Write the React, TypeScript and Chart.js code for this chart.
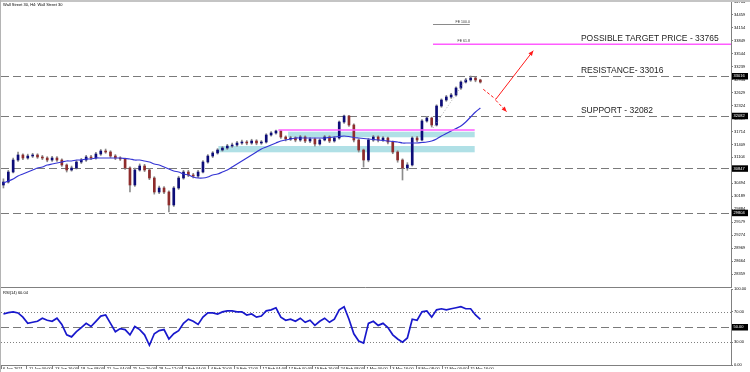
import { useEffect, useRef } from "react";
import { Chart, registerables } from "chart.js";

Chart.register(...registerables);

const FONT = '"Liberation Sans", Arial, Helvetica, sans-serif';

const chartTitle = "Wall Street 30, H4: Wall Street 30";
const rsiTitle = "RSI(14) 60.04";

// time axis in H4 bars; one label every 16 bars, one drawn candle = 3 bars
const xLabels = [
  "6 Jan 2021", "11 Jan 00:00", "13 Jan 16:00", "18 Jan 08:00", "21 Jan 04:00",
  "25 Jan 20:00", "28 Jan 12:00", "2 Feb 04:00", "4 Feb 20:00", "9 Feb 12:00",
  "12 Feb 04:00", "17 Feb 00:00", "19 Feb 16:00", "24 Feb 08:00", "1 Mar 00:00",
  "3 Mar 16:00", "8 Mar 08:00", "11 Mar 00:00", "15 Mar 16:00",
];
const BARS_PER_LABEL = 16;
const BARS_PER_CANDLE = 3;
const X_MAX = 450;

const opens = [
  30455, 30525, 30760, 31042, 31160, 31089, 31136, 31160, 31113, 31089,
  31042, 31089, 31042, 30925, 30807, 30854, 30995, 31042, 31113, 31089,
  31183, 31254, 31230, 31136, 31089, 31066, 30854, 30455, 30807, 30901,
  30807, 30619, 30290, 30384, 30290, 29985, 30384, 30619, 30760, 30690,
  30666, 30760, 30995, 31136, 31207, 31277, 31324, 31371, 31395, 31442,
  31465, 31442, 31489, 31442, 31465, 31630, 31677, 31724, 31583, 31536,
  31559, 31512, 31583, 31489, 31536, 31418, 31512, 31583, 31489, 31559,
  31935, 32076, 31865, 31512, 31277, 31042, 31512, 31583, 31512, 31559,
  31465, 31230, 31042, 30854, 30925, 31559, 31512, 31959, 32029, 31865,
  32311, 32452, 32523, 32570, 32734, 32875, 32922, 32969, 32922,
];
const closes = [
  30525, 30760, 31042, 31160, 31089, 31136, 31160, 31113, 31089, 31042,
  31089, 31042, 30925, 30807, 30854, 30995, 31042, 31113, 31089, 31183,
  31254, 31230, 31136, 31089, 31066, 30854, 30455, 30807, 30901, 30807,
  30619, 30290, 30384, 30290, 29985, 30384, 30619, 30760, 30690, 30666,
  30760, 30995, 31136, 31207, 31277, 31324, 31371, 31395, 31442, 31465,
  31442, 31489, 31442, 31465, 31630, 31677, 31724, 31583, 31536, 31559,
  31512, 31583, 31489, 31536, 31418, 31512, 31583, 31489, 31559, 31935,
  32076, 31865, 31512, 31277, 31042, 31512, 31583, 31512, 31559, 31465,
  31230, 31042, 30854, 30925, 31559, 31512, 31959, 32029, 31865, 32311,
  32452, 32523, 32570, 32734, 32875, 32922, 32969, 32922, 32875,
];
const highs = [
  30600, 30800, 31090, 31230, 31190, 31180, 31200, 31190, 31150, 31120,
  31130, 31120, 31070, 30950, 30900, 31030, 31080, 31150, 31150, 31220,
  31290, 31300, 31260, 31170, 31120, 31090, 30880, 30850, 30950, 30940,
  30840, 30650, 30430, 30420, 30320, 30420, 30660, 30800, 30800, 30730,
  30800, 31030, 31170, 31240, 31310, 31360, 31410, 31440, 31480, 31510,
  31500, 31530, 31520, 31500, 31660, 31710, 31747, 31740, 31610, 31600,
  31590, 31620, 31610, 31570, 31560, 31540, 31620, 31610, 31590, 31960,
  32100, 32090, 31890, 31540, 31300, 31550, 31620, 31610, 31590, 31580,
  31490, 31260, 31070, 30980, 31590, 31600, 31990, 32070, 32050, 32340,
  32480, 32560, 32610, 32760, 32900, 32960, 33016, 32990, 32940,
];
const lows = [
  30384, 30500, 30740, 31010, 31050, 31060, 31100, 31080, 31050, 31000,
  31010, 31010, 30890, 30760, 30780, 30830, 30960, 31010, 31050, 31060,
  31150, 31200, 31100, 31050, 31030, 30820, 30290, 30420, 30780, 30770,
  30580, 30240, 30250, 30250, 29820, 29950, 30350, 30590, 30650, 30620,
  30630, 30740, 30970, 31100, 31180, 31250, 31290, 31340, 31360, 31410,
  31400, 31410, 31400, 31410, 31440, 31600, 31650, 31550, 31490, 31500,
  31470, 31480, 31450, 31450, 31370, 31390, 31490, 31450, 31460, 31530,
  31900, 31830, 31470, 31230, 30878, 31000, 31480, 31470, 31480, 31420,
  31190, 30990, 30572, 30800, 30900, 31470, 31490, 31930, 31817, 31840,
  32280, 32420, 32490, 32540, 32700, 32850, 32890, 32880, 32850,
];
const ma50 = [
  30502, 30548, 30596, 30666, 30713, 30760, 30807, 30854, 30878, 30925,
  30948, 30972, 30995, 31019, 31019, 31042, 31042, 31066, 31066, 31089,
  31089, 31089, 31089, 31089, 31089, 31077, 31066, 31042, 31042, 31019,
  30995, 30948, 30925, 30878, 30830, 30784, 30760, 30713, 30690, 30643,
  30619, 30619, 30643, 30690, 30713, 30760, 30807, 30878, 30948, 31019,
  31089, 31160, 31230, 31301, 31348, 31395, 31442, 31489, 31512, 31536,
  31559, 31559, 31559, 31559, 31559, 31559, 31559, 31571, 31583, 31594,
  31606, 31594, 31571, 31559, 31547, 31536, 31524, 31512, 31500, 31489,
  31477, 31465, 31442, 31442, 31442, 31442, 31454, 31465, 31489, 31536,
  31606, 31665, 31724, 31782, 31841, 31935, 32053, 32170, 32264,
];
const rsi14 = [
  67.1, 68.9, 69.9, 68.5, 63.0, 54.8, 56.2, 57.5, 61.6, 58.9,
  57.5, 61.6, 53.4, 39.7, 37.0, 43.8, 49.3, 54.8, 50.7, 57.5,
  64.4, 65.8, 54.8, 43.8, 47.9, 46.6, 39.7, 50.7, 46.6, 39.7,
  26.0, 41.1, 45.2, 46.6, 34.2, 41.1, 45.2, 54.8, 60.3, 57.5,
  53.4, 63.0, 68.5, 68.5, 67.1, 69.9, 71.2, 71.2, 69.9, 69.9,
  65.8, 67.1, 63.0, 64.4, 71.2, 72.6, 75.3, 63.0, 58.9, 60.3,
  57.5, 61.6, 56.2, 58.9, 52.1, 57.5, 61.6, 56.2, 60.3, 72.6,
  76.7, 60.3, 41.1, 31.5, 28.8, 54.8, 57.5, 52.1, 54.8, 49.3,
  39.7, 34.2, 30.1, 35.6, 60.3, 58.9, 69.9, 71.2, 63.0, 72.6,
  74.0, 72.6, 74.0, 75.3, 76.7, 74.0, 74.0, 65.8, 60.04,
];

const priceTicks = [
  34764, 34459, 34154, 33849, 33544, 33239, 32934, 32629, 32324, 32019,
  31714, 31409, 31104, 30799, 30494, 30189, 29884, 29579, 29274, 28969,
  28664, 28359,
];
const PRICE_MIN = 28058;
const PRICE_MAX = 34802;

const keyLevels = [33016, 32082, 30847, 29804];
const targetPrice = 33765;
const fe100Price = 34238;
const feFromBar = 266.3;
const feToBar = 289;
const noteBar = 357.5;
const notes = [
  { text: "POSSIBLE TARGET PRICE - 33765", price: 33765 },
  { text: "RESISTANCE- 33016", price: 33016 },
  { text: "SUPPORT - 32082", price: 32082 },
];
const zones = [
  { from: 177, to: 292, top: 31707, bottom: 31576 },
  { from: 134, to: 292, top: 31371, bottom: 31223 },
];
const pinkMid = { from: 171, to: 292, price: 31747 };
const fibLink = [
  { x: 266.3, y: 31794 },
  { x: 287.3, y: 32969 },
];
const scenarioStart = { x: 297.3, y: 32704 };
const pivot = { x: 305, y: 32469 };
const upTarget = { x: 328.1, y: 33611 };
const downTarget = { x: 311.7, y: 32177 };

const rsiTicks = [0, 30, 70, 100];
const rsiDotted = [70, 30];
const rsiDashed = 50;

const UP = "#0c0c78";
const DOWN = "#8e2c2c";
const WICK = "#8c8c8c";
const GRID = "#808080";
const PINK = "#ff5cff";

function tag(ctx: any, scale: any, value: number, text: string) {
  const y = scale.getPixelForValue(value);
  ctx.save();
  ctx.fillStyle = "#000";
  ctx.fillRect(scale.left + 1, y - 3, 16, 6.5);
  ctx.fillStyle = "#fff";
  ctx.font = `4px ${FONT}`;
  ctx.textAlign = "left";
  ctx.textBaseline = "middle";
  ctx.fillText(text, scale.left + 2.5, y + 0.3);
  ctx.restore();
}

function arrow(ctx: any, x1: number, y1: number, x2: number, y2: number, head: boolean, dashed: boolean) {
  ctx.setLineDash(dashed ? [3, 2] : []);
  ctx.beginPath();
  ctx.moveTo(x1, y1);
  ctx.lineTo(x2, y2);
  ctx.stroke();
  if (head) {
    const a = Math.atan2(y2 - y1, x2 - x1);
    const L = 5, W = 2.2;
    ctx.setLineDash([]);
    ctx.beginPath();
    ctx.moveTo(x2, y2);
    ctx.lineTo(x2 - L * Math.cos(a) + W * Math.sin(a), y2 - L * Math.sin(a) - W * Math.cos(a));
    ctx.lineTo(x2 - L * Math.cos(a) - W * Math.sin(a), y2 - L * Math.sin(a) + W * Math.cos(a));
    ctx.closePath();
    ctx.fill();
  }
}

const mainPlugin = {
  id: "mainAnnotations",
  beforeDatasetsDraw(chart: any) {
    const { ctx, chartArea: a, scales } = chart;
    const x = scales.x, y = scales.y;
    ctx.save();
    ctx.fillStyle = "#b0e0e6";
    zones.forEach((z) => {
      const x1 = x.getPixelForValue(z.from), x2 = x.getPixelForValue(z.to);
      const y1 = y.getPixelForValue(z.top), y2 = y.getPixelForValue(z.bottom);
      ctx.fillRect(x1, y1, x2 - x1, y2 - y1);
    });
    ctx.strokeStyle = "#7a7a7a";
    ctx.lineWidth = 1;
    ctx.setLineDash([8, 4]);
    keyLevels.forEach((v) => {
      const yy = Math.round(y.getPixelForValue(v)) + 0.5;
      ctx.beginPath();
      ctx.moveTo(a.left, yy);
      ctx.lineTo(a.right, yy);
      ctx.stroke();
    });
    ctx.restore();
  },
  afterDatasetsDraw(chart: any) {
    const { ctx, chartArea: a, scales } = chart;
    const x = scales.x, y = scales.y;
    ctx.save();
    ctx.strokeStyle = PINK;
    ctx.lineWidth = 1.5;
    let yy = y.getPixelForValue(pinkMid.price);
    ctx.beginPath();
    ctx.moveTo(x.getPixelForValue(pinkMid.from), yy);
    ctx.lineTo(x.getPixelForValue(pinkMid.to), yy);
    ctx.stroke();
    yy = y.getPixelForValue(targetPrice);
    ctx.beginPath();
    ctx.moveTo(x.getPixelForValue(feFromBar), yy);
    ctx.lineTo(a.right, yy);
    ctx.stroke();
    ctx.strokeStyle = "#8a8a8a";
    ctx.lineWidth = 1;
    const y100 = Math.round(y.getPixelForValue(fe100Price)) + 0.5;
    ctx.beginPath();
    ctx.moveTo(x.getPixelForValue(feFromBar), y100);
    ctx.lineTo(x.getPixelForValue(feToBar), y100);
    ctx.stroke();
    ctx.fillStyle = "#333";
    ctx.font = `3.5px ${FONT}`;
    ctx.textAlign = "right";
    ctx.textBaseline = "bottom";
    ctx.fillText("FE 100.0", x.getPixelForValue(feToBar), y100 - 1);
    ctx.fillText("FE 61.8", x.getPixelForValue(feToBar), y.getPixelForValue(targetPrice) - 1);
    ctx.strokeStyle = "#ff1a1a";
    ctx.fillStyle = "#ff1a1a";
    ctx.lineWidth = 1;
    const P = (p: any) => [x.getPixelForValue(p.x), y.getPixelForValue(p.y)];
    const [sx, sy] = P(scenarioStart), [px, py] = P(pivot), [ux, uy] = P(upTarget), [dx, dy] = P(downTarget);
    arrow(ctx, sx, sy, px, py, false, true);
    arrow(ctx, px, py, ux, uy, true, false);
    arrow(ctx, px, py + 1, dx, dy, true, true);
    ctx.setLineDash([]);
    ctx.fillStyle = "#1e1e1e";
    ctx.font = `8.5px ${FONT}`;
    ctx.textAlign = "left";
    ctx.textBaseline = "alphabetic";
    notes.forEach((n) => {
      ctx.fillText(n.text, x.getPixelForValue(noteBar), y.getPixelForValue(n.price) - 3);
    });
    ctx.restore();
  },
  afterDraw(chart: any) {
    const { ctx, chartArea: a, scales } = chart;
    keyLevels.forEach((v) => tag(ctx, scales.y, v, String(v)));
    ctx.save();
    ctx.strokeStyle = GRID;
    ctx.lineWidth = 1;
    ctx.beginPath();
    ctx.moveTo(0, a.bottom + 0.5);
    ctx.lineTo(a.right, a.bottom + 0.5);
    ctx.stroke();
    ctx.fillStyle = "#000";
    ctx.font = `4px ${FONT}`;
    ctx.textAlign = "left";
    ctx.textBaseline = "middle";
    ctx.fillText(chartTitle, 3, a.top + 4.5);
    ctx.restore();
  },
};

const rsiPlugin = {
  id: "rsiAnnotations",
  beforeDatasetsDraw(chart: any) {
    const { ctx, chartArea: a, scales } = chart;
    const y = scales.y;
    ctx.save();
    ctx.strokeStyle = GRID;
    ctx.lineWidth = 1;
    ctx.setLineDash([1, 2]);
    rsiDotted.forEach((v) => {
      const yy = Math.round(y.getPixelForValue(v)) + 0.5;
      ctx.beginPath();
      ctx.moveTo(a.left, yy);
      ctx.lineTo(a.right, yy);
      ctx.stroke();
    });
    ctx.strokeStyle = "#7a7a7a";
    ctx.setLineDash([8, 4]);
    const yd = Math.round(y.getPixelForValue(rsiDashed)) + 0.5;
    ctx.beginPath();
    ctx.moveTo(a.left, yd);
    ctx.lineTo(a.right, yd);
    ctx.stroke();
    ctx.restore();
  },
  afterDraw(chart: any) {
    const { ctx, chartArea: a, scales } = chart;
    tag(ctx, scales.y, rsiDashed, rsiDashed.toFixed(2));
    ctx.save();
    ctx.fillStyle = "#000";
    ctx.font = `4px ${FONT}`;
    ctx.textAlign = "left";
    ctx.textBaseline = "middle";
    ctx.fillText(rsiTitle, 3, a.top + 3.5);
    ctx.restore();
  },
};

const tickFont = { family: FONT, size: 4, lineHeight: 1.5 };

export default function App() {
  const mainRef = useRef<HTMLCanvasElement | null>(null);
  const rsiRef = useRef<HTMLCanvasElement | null>(null);

  useEffect(() => {
    document.body.style.margin = "0";
    const xs = closes.map((_, i) => i * BARS_PER_CANDLE + BARS_PER_CANDLE / 2);
    const wickData = xs.map((x, i) => ({ x, y: [lows[i], highs[i]] }));
    const bodyData = xs.map((x, i) => ({ x, y: [opens[i], closes[i]] }));
    const bodyColors = closes.map((c, i) => (c >= opens[i] ? UP : DOWN));
    const maData = xs.map((x, i) => ({ x, y: ma50[i] }));
    const rsiData = xs.map((x, i) => ({ x, y: rsi14[i] }));

    const main = new Chart(mainRef.current as HTMLCanvasElement, {
      type: "bar",
      data: {
        datasets: [
          { type: "line", data: maData, borderColor: "#3535d4", borderWidth: 1.2, pointRadius: 0, tension: 0.25, order: 1 } as any,
          { type: "line", data: fibLink, borderColor: "#9a9a9a", borderWidth: 0.8, borderDash: [1, 2], pointRadius: 0, order: 0 } as any,
          { type: "bar", data: bodyData, backgroundColor: bodyColors, barThickness: 2, grouped: false, minBarLength: 1, order: 2 } as any,
          { type: "bar", data: wickData, backgroundColor: WICK, barThickness: 1, grouped: false, order: 3 } as any,
        ],
      },
      options: {
        responsive: false,
        animation: false,
        events: [],
        layout: { padding: { left: 1, right: 0, top: 0, bottom: 0 } },
        plugins: { legend: { display: false }, tooltip: { enabled: false } },
        scales: {
          x: { type: "linear", min: 0, max: X_MAX, display: false, offset: false },
          y: {
            position: "right",
            min: PRICE_MIN,
            max: PRICE_MAX,
            afterBuildTicks: (s: any) => { s.ticks = priceTicks.map((v) => ({ value: v })); },
            afterFit: (s: any) => { s.width = 19; },
            ticks: { font: tickFont, color: "#000", padding: 1, autoSkip: false, callback: (v: any) => String(v) },
            grid: { display: true, drawOnChartArea: false, tickLength: 2, color: GRID },
            border: { display: true, color: GRID },
          },
        },
      } as any,
      plugins: [mainPlugin],
    });

    const rsi = new Chart(rsiRef.current as HTMLCanvasElement, {
      type: "line",
      data: {
        datasets: [
          { data: rsiData, borderColor: "#1818cc", borderWidth: 1.7, pointRadius: 0, tension: 0 } as any,
        ],
      },
      options: {
        responsive: false,
        animation: false,
        events: [],
        layout: { padding: { left: 1, right: 0, top: 0, bottom: 3 } },
        plugins: { legend: { display: false }, tooltip: { enabled: false } },
        scales: {
          x: {
            type: "linear",
            min: 0,
            max: X_MAX,
            offset: false,
            afterBuildTicks: (s: any) => { s.ticks = xLabels.map((_, k) => ({ value: k * BARS_PER_LABEL })); },
            ticks: {
              font: tickFont, color: "#000", padding: -3, align: "start", labelOffset: 2,
              maxRotation: 0, minRotation: 0, autoSkip: false,
              callback: (_v: any, i: number) => xLabels[i] ?? "",
            },
            grid: { display: true, drawOnChartArea: false, tickLength: 4, color: GRID },
            border: { display: true, color: GRID },
          },
          y: {
            position: "right",
            min: 0,
            max: 100,
            afterBuildTicks: (s: any) => { s.ticks = rsiTicks.map((v) => ({ value: v })); },
            afterFit: (s: any) => { s.width = 19; },
            ticks: { font: tickFont, color: "#000", padding: 1, autoSkip: false, callback: (v: any) => Number(v).toFixed(2) },
            grid: { display: true, drawOnChartArea: false, tickLength: 2, color: GRID },
            border: { display: true, color: GRID },
          },
        },
      } as any,
      plugins: [rsiPlugin],
    });

    return () => {
      main.destroy();
      rsi.destroy();
    };
  }, []);

  return (
    <div style={{ position: "fixed", left: 0, top: 0, width: 750, height: 372, overflow: "hidden", background: "#fff" }}>
      <canvas ref={mainRef} width={750} height={295} style={{ position: "absolute", left: 0, top: -4, width: 750, height: 295 }} />
      <canvas ref={rsiRef} width={750} height={87} style={{ position: "absolute", left: 0, top: 285, width: 750, height: 87 }} />
      <div style={{ position: "absolute", left: 0, top: 0, width: 750, height: 2, background: "#c4c4c4" }} />
      <div style={{ position: "absolute", left: 0, top: 0, width: 1, height: 372, background: "#b4b4b4" }} />
    </div>
  );
}
